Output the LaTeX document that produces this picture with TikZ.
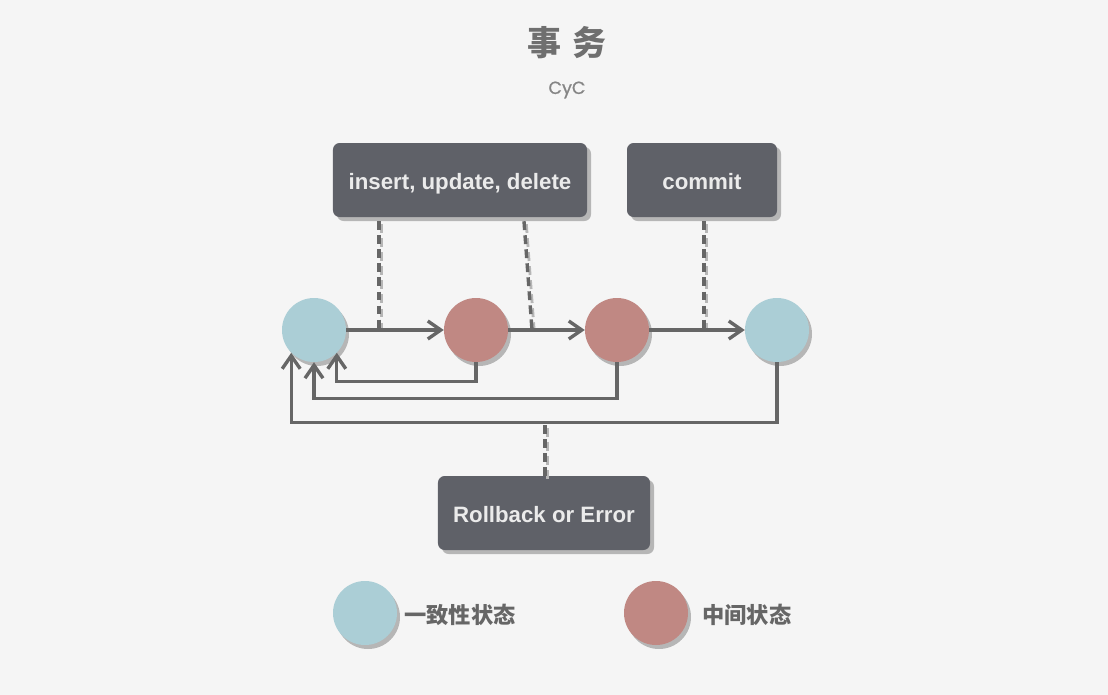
\documentclass[tikz,border=0pt]{standalone}
\usepackage{fontspec}
\setmainfont{Liberation Sans}
\newfontfamily\cjk{Noto Sans CJK SC}
\newfontfamily\geo[FakeBold=0.9]{Poppins}
\usetikzlibrary{positioning, arrows.meta, shadows}
\definecolor{bgc}{HTML}{F5F5F5}
\definecolor{okc}{HTML}{ABCED6}
\definecolor{midc}{HTML}{C08883}
\definecolor{boxc}{HTML}{5F6168}
\definecolor{linec}{HTML}{666666}
\definecolor{shdc}{HTML}{B6B6B6}
\definecolor{ttlc}{HTML}{6F6F6F}
\definecolor{subc}{HTML}{858585}
\tikzset{
  st/.style    = {circle, minimum size=1.92cm, inner sep=0pt,
                  general shadow={fill=shdc, shadow xshift=0.09cm, shadow yshift=-0.12cm}},
  ok/.style    = {st, fill=okc},
  mid/.style   = {st, fill=midc},
  op/.style    = {rectangle, rounded corners=0.2cm, fill=boxc, minimum height=2.22cm,
                  inner sep=0pt, text=white!92!black, text height=17pt, text depth=0pt,
                  font=\bfseries\fontsize{19}{22}\selectfont,
                  general shadow={fill=shdc, shadow xshift=0.12cm, shadow yshift=-0.12cm}},
  flow/.style  = {draw=linec, line width=2.9pt,
                  -{Straight Barb[length=3.9mm, width=5.4mm]}},
  tie/.style   = {draw=linec, line width=2.9pt, dash pattern=on 7.5pt off 4.5pt,
                  preaction={draw=shdc, line width=2.4pt, dash pattern=on 7.5pt off 4.5pt,
                  transform canvas={xshift=2pt, yshift=-2.5pt}}},
  key/.style   = {font=\cjk\bfseries\fontsize{19}{22}\selectfont, text=linec, inner sep=0pt},
}

\begin{document}
\begin{tikzpicture}[x=0.03cm, y=-0.03cm]
  \fill[bgc] (0,0) rectangle (1108,695);

  \node[font=\cjk\bfseries\fontsize{29}{32}\selectfont, text=ttlc] (ttl) at (567,43) {事\hspace{0.35em}务};
  \node[font=\geo\fontsize{15}{18}\selectfont, text=subc] (sub) at (567,90) {CyC};

  \node[op, minimum width=7.62cm] (ops) at (460,180) {insert, update, delete};
  \node[op, minimum width=4.5cm]  (cmt) at (702,180) {commit};
  \node[op, minimum width=6.36cm] (rbk) at (544,513) {Rollback or Error};

  \node[ok]  (c1) at (314,330) {};
  \node[mid] (c2) at (476,330) {};
  \node[mid] (c3) at (617,330) {};
  \node[ok]  (c4) at (777,330) {};

  \coordinate (t1) at (379,330);
  \coordinate (t2) at (532,330);
  \coordinate (t3) at (704,330);
  \coordinate (t4) at (545,424);
  \draw[tie] ([yshift=-0.12cm]ops.south -| t1) -- (t1);
  \draw[tie] ([xshift=1.92cm, yshift=-0.12cm]ops.south) -- (t2);
  \draw[tie] ([yshift=-0.12cm]cmt.south -| t3) -- (t3);
  \draw[tie] (rbk.north -| t4) -- (t4);

  \draw[flow] (c1) -- (c2);
  \draw[flow] (c2) -- (c3);
  \draw[flow] (c3) -- (c4);
  \draw[flow] (c2.south) -- ++(0,19) -| (c1.-45);
  \draw[flow] (c3.south) -- ++(0,36) -| (c1.south);
  \draw[flow] (c4.south) -- ++(0,60) -| (c1.-135);

  \node[ok]  (lok) at (365,613) {};
  \node[key, right=0.21cm of lok, yshift=-0.06cm] (kok) {一致性状态};
  \node[mid] (lmid) at (656,613) {};
  \node[key, right=0.42cm of lmid, yshift=-0.06cm] (kmid) {中间状态};
\end{tikzpicture}
\end{document}
